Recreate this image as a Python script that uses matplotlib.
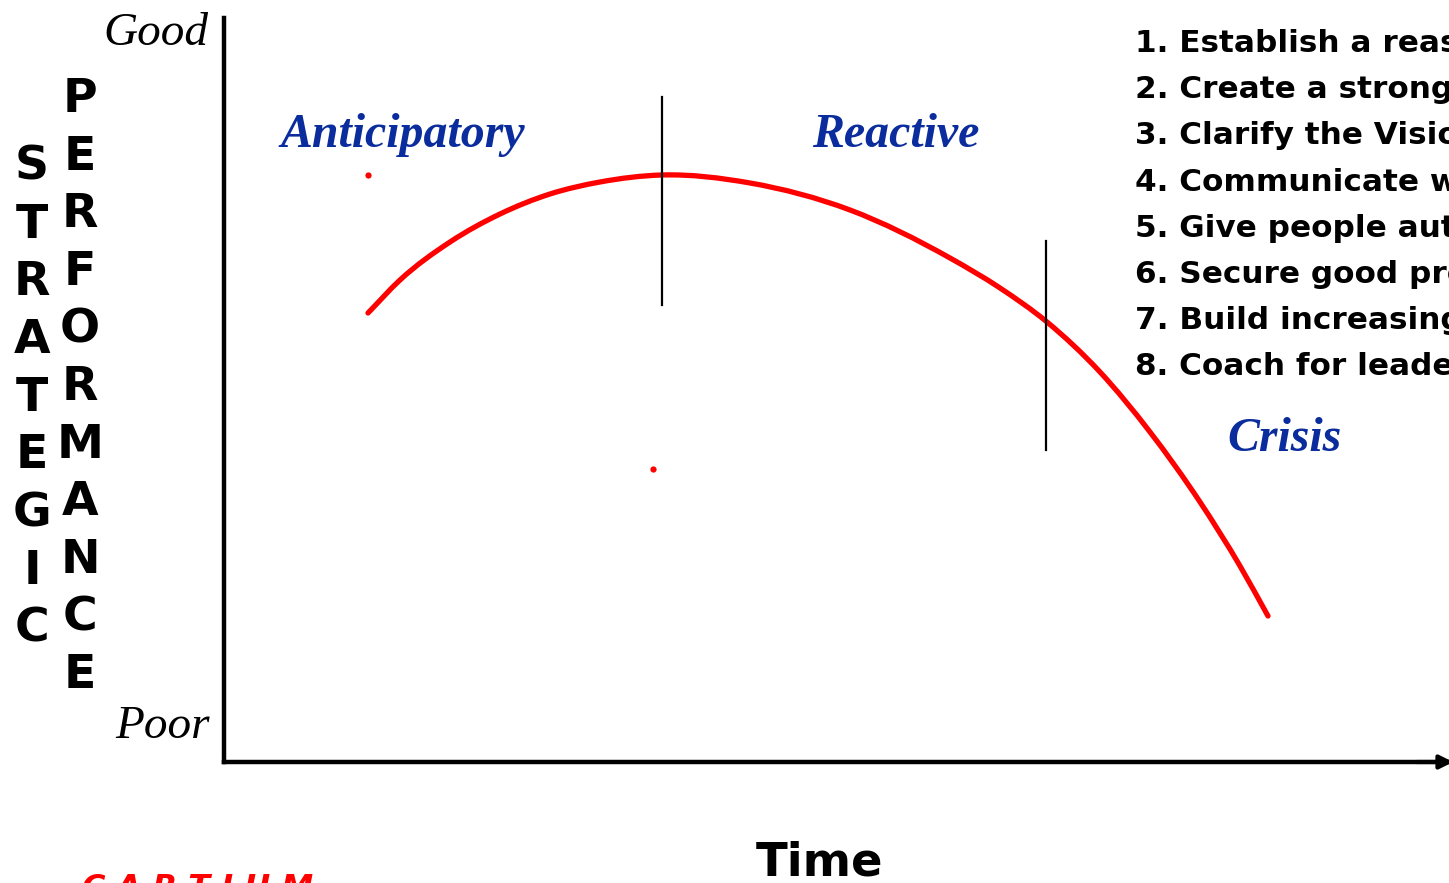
import matplotlib
matplotlib.use("Agg")
import matplotlib.pyplot as plt
import numpy as np
from matplotlib.path import Path
from matplotlib.patches import PathPatch

# performance curve (time, performance)
time = [144, 176, 226, 276, 326, 376, 438, 526, 626, 726, 776, 823, 876, 926, 976, 1016, 1044]
perf = [449, 482, 520, 548, 568, 580, 587, 579, 552, 504, 474, 440, 390, 330, 260, 196, 146]

# stray red points
dot_time = [144, 429]
dot_perf = [587, 293]

# phase dividers: (time, low, high)
dividers = [(438, 457, 665), (822, 312, 521)]

phases = ["Anticipatory", "Reactive", "Crisis"]
steps = [
    "1. Establish a reason for change",
    "2. Create a strong guiding team",
    "3. Clarify the Vision",
    "4. Communicate widely",
    "5. Give people authority",
    "6. Secure good progress",
    "7. Build increasing momentum",
    "8. Coach for leadership",
]
word1 = "STRATEGIC"
word2 = "PERFORMANCE"


def smooth_path(xs, ys):
    # hermite curve through the read points (slopes from neighbours)
    x = np.asarray(xs, float)
    y = np.asarray(ys, float)
    m = np.gradient(y, x)
    verts = [(x[0], y[0])]
    codes = [Path.MOVETO]
    for i in range(len(x) - 1):
        h = (x[i + 1] - x[i]) / 3
        verts += [(x[i] + h, y[i] + m[i] * h),
                  (x[i + 1] - h, y[i + 1] - m[i + 1] * h),
                  (x[i + 1], y[i + 1])]
        codes += [Path.CURVE4] * 3
    return Path(verts, codes)


W, H = 1449, 883
fig = plt.figure(figsize=(W / 100, H / 100), dpi=100)

# pixel canvas for the labels
bg = fig.add_axes([0, 0, 1, 1])
bg.set_xlim(0, W)
bg.set_ylim(H, 0)
bg.axis("off")

# chart axes
x0, y0, x1, y1 = 224, 762, 1449, 18
ax = fig.add_axes([x0 / W, (H - y0) / H, (x1 - x0) / W, (y0 - y1) / H])
ax.set_xlim(0, x1 - x0)
ax.set_ylim(0, y0 - y1)
ax.patch.set_visible(False)
for s in ["top", "right"]:
    ax.spines[s].set_visible(False)
for s in ["left", "bottom"]:
    ax.spines[s].set_linewidth(3.2)
    ax.spines[s].set_capstyle("projecting")
ax.set_xticks([])
ax.set_yticks([])

ax.add_patch(PathPatch(smooth_path(time, perf), fill=False, edgecolor="#ff0000",
                       lw=3.8, capstyle="round", joinstyle="round"))
ax.plot(dot_time, dot_perf, "o", color="#ff0000", ms=4.5, mec="none")
for t, lo, hi in dividers:
    ax.plot([t, t], [lo, hi], color="black", lw=1.6)

ax.annotate("", xy=(1232, 0), xytext=(1190, 0), annotation_clip=False,
            arrowprops=dict(arrowstyle="-|>", color="black", lw=3,
                            mutation_scale=20))

serif = "Liberation Serif"
sans = "DejaVu Sans"
blue = "#0a2c9c"

bg.text(208, 45, "Good", family=serif, style="italic", fontsize=34,
        ha="right", va="baseline")
bg.text(210, 738, "Poor", family=serif, style="italic", fontsize=34,
        ha="right", va="baseline")

for i, ch in enumerate(word1):
    bg.text(32, 180 + i * 57.7, ch, family=sans, weight="bold", fontsize=34,
            ha="center", va="baseline")
for i, ch in enumerate(word2):
    bg.text(80, 112 + i * 57.6, ch, family=sans, weight="bold", fontsize=34,
            ha="center", va="baseline")

for name, (px, py) in zip(phases, [(280, 147), (812, 147), (1227, 451)]):
    bg.text(px, py, name, family=serif, style="italic", weight="bold",
            fontsize=34.5, color=blue, ha="left", va="baseline")

for i, s in enumerate(steps):
    bg.text(1135, 52 + i * 46.2, s, family=sans, weight="bold", fontsize=22.4,
            ha="left", va="baseline")

bg.text(819, 876, "Time", family=sans, weight="bold", fontsize=33.5,
        ha="center", va="baseline")
bg.text(82, 897, "C A R T I U M", family=sans, weight="bold", style="italic",
        fontsize=23, color="#ff0000", ha="left", va="baseline")

fig.savefig("out.png", dpi=100)
